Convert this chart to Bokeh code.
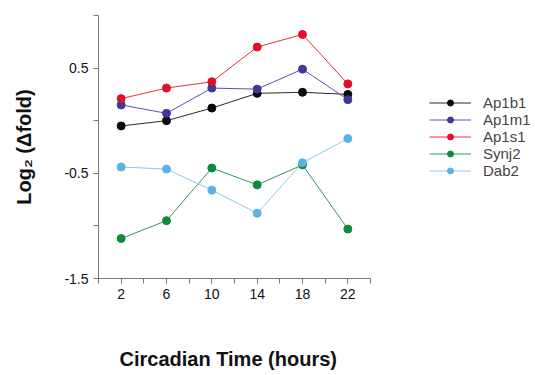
from bokeh.plotting import figure
from bokeh.models import FixedTicker, Legend, LegendItem, Title, LinearAxis
from bokeh.embed import file_html
from bokeh.resources import INLINE

hours = [2, 6, 10, 14, 18, 22]
ap1b1 = [-0.05, 0.00, 0.12, 0.26, 0.27, 0.25]
ap1m1 = [0.15, 0.07, 0.31, 0.30, 0.49, 0.20]
ap1s1 = [0.21, 0.31, 0.37, 0.70, 0.82, 0.35]
synj2 = [-1.12, -0.95, -0.45, -0.61, -0.42, -1.03]
dab2 = [-0.44, -0.46, -0.66, -0.88, -0.40, -0.17]

x_ticks = [2, 6, 10, 14, 18, 22]
y_ticks = [-1.5, -0.5, 0.5]

series = [
    ("Ap1b1", ap1b1, "#2a2a2a", "#0a0a0a"),
    ("Ap1m1", ap1m1, "#5a52b0", "#3e3898"),
    ("Ap1s1", ap1s1, "#e8303c", "#e0102a"),
    ("Synj2", synj2, "#2e9a5a", "#0e8a3e"),
    ("Dab2", dab2, "#8cc8ec", "#5cb2e4"),
]

FONT = "Liberation Sans"

W, H = 535, 375
LEFT, RIGHT, TOP, BOTTOM = 98, 5, 15, 97
AXIS_PX = 272  # pixel length of the 0..24 h axis
frame_w = W - LEFT - RIGHT
x_end = 24 * frame_w / AXIS_PX

p = figure(width=W, height=H, output_backend="svg", toolbar_location=None,
           x_range=(0, x_end), y_range=(-1.5, 1.0),
           min_border_left=LEFT, min_border_right=RIGHT, min_border_top=TOP,
           min_border_bottom=BOTTOM)
p.outline_line_color = None
p.xgrid.visible = False
p.ygrid.visible = False
p.background_fill_color = "white"
p.border_fill_color = "white"

items = []
for name, vals, lc, mc in series:
    r1 = p.line(hours, vals, line_color=lc, line_width=1)
    r2 = p.scatter(hours, vals, size=8, fill_color=mc, line_color=mc)
    items.append(LegendItem(label=name, renderers=[r1, r2]))

legend = Legend(items=items, location=(331, 99), padding=0, margin=0,
                spacing=0, glyph_width=42, glyph_height=15, label_height=15,
                label_standoff=12, label_text_font=FONT,
                label_text_font_size="15px",
                border_line_color=None, background_fill_alpha=0)
p.add_layout(legend, "center")

for ax in (p.xaxis[0], p.yaxis[0]):
    ax.axis_line_color = "#777777"
    ax.major_tick_line_color = "#777777"
    ax.minor_tick_line_color = "#777777"
    ax.major_tick_in = 0
    ax.major_tick_out = 5
    ax.minor_tick_in = 0
    ax.minor_tick_out = 5
    ax.major_label_text_font = FONT
    ax.major_label_text_font_size = "14px"
    ax.major_label_text_color = "#111111"
    ax.axis_label_text_font = FONT
    ax.axis_label_text_font_style = "bold"
    ax.axis_label_text_font_size = "20px"
    ax.axis_label_text_color = "#111111"

p.xaxis.bounds = (0, 24)
p.yaxis.bounds = (-1.5, 1.0)
p.xaxis.ticker = FixedTicker(ticks=x_ticks, minor_ticks=list(range(0, 25, 2)))
p.yaxis.ticker = FixedTicker(ticks=y_ticks,
                             minor_ticks=[-1.5, -1.0, -0.5, 0.0, 0.5, 1.0])
p.yaxis.major_label_overrides = {t: f"{t:.1f}" for t in y_ticks}
p.yaxis.axis_label = "Log\u2082 (\u0394fold)"
p.yaxis.axis_label_standoff = 26

# white spacer axis (one white tick in the empty right area) that pushes the
# x-axis title down
spacer = LinearAxis(ticker=FixedTicker(ticks=[34], minor_ticks=[]),
                    axis_line_color=None, major_tick_line_color="white",
                    minor_tick_line_color=None, major_tick_in=0,
                    major_tick_out=44, minor_tick_out=0,
                    major_label_standoff=0, major_label_text_font_size="0px",
                    major_label_overrides={34: ""})
p.add_layout(spacer, "below")

xlabel = Title(text="Circadian Time (hours)", align="left", offset=21,
               standoff=0, text_font=FONT,
               text_font_style="bold", text_font_size="20px",
               text_color="#111111")
p.add_layout(xlabel, "below")

html = file_html(p, INLINE)
html = html.replace("</head>", "<style>html,body{overflow:hidden;}</style></head>", 1)
open("out.html", "w").write(html)
